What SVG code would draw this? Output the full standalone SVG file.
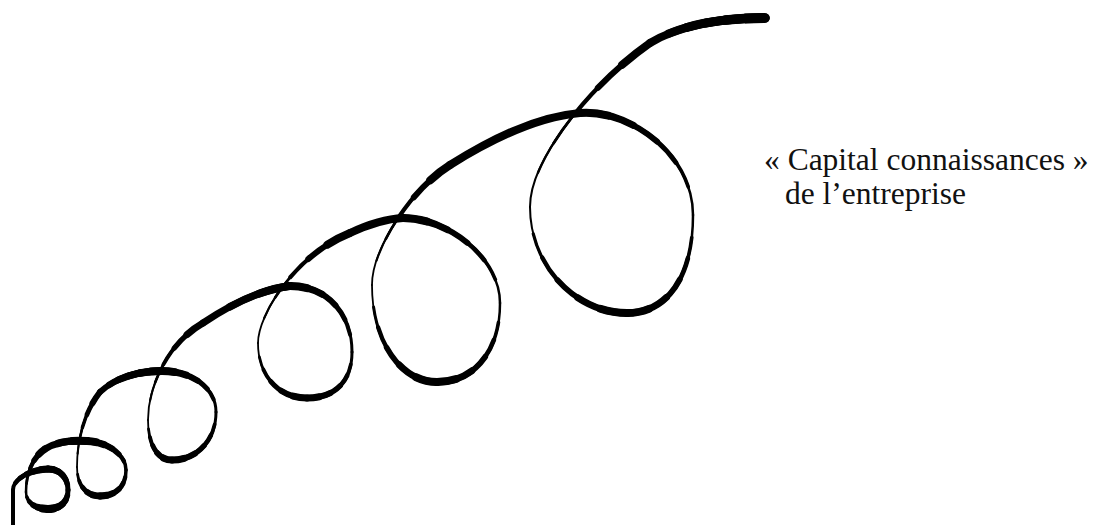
<svg xmlns="http://www.w3.org/2000/svg" width="1101" height="525" viewBox="0 0 1101 525">
<style>
.r{fill:none;stroke:#000;stroke-linecap:round;stroke-linejoin:round}
.o83{stroke-dasharray:83 300}
.o67{stroke-dasharray:67 300}
.o50{stroke-dasharray:50 300}
.o33{stroke-dasharray:33 300}
.o17{stroke-dasharray:17 300}
.i83{stroke-dasharray:83 300;stroke-dashoffset:-17}
.i67{stroke-dasharray:67 300;stroke-dashoffset:-33}
.i50{stroke-dasharray:50 300;stroke-dashoffset:-50}
.i33{stroke-dasharray:33 300;stroke-dashoffset:-67}
.i17{stroke-dasharray:17 300;stroke-dashoffset:-83}
.lbl{font-family:"Liberation Serif","Times New Roman",serif;font-size:31.5px;fill:#111}
</style>
<defs>
<path id="s1" pathLength="100" d="M13,530 L13,490"/>
<path id="s2" pathLength="100" d="M13,490 C13,480 28,470 48,469"/>
<path id="s3" pathLength="100" d="M48,469 C60,469 68,478 68,490"/>
<path id="s4" pathLength="100" d="M68,490 C68,502 60,509 48,509"/>
<path id="s5" pathLength="100" d="M48,509 C35,509 26,502 26,492"/>
<path id="s6" pathLength="100" d="M26,492 C26,473 33,457 45,449"/>
<path id="s7" pathLength="100" d="M45,449 C56,442 70,440 87,441"/>
<path id="s8" pathLength="100" d="M87,441 C108,442 126,455 126,470"/>
<path id="s9" pathLength="100" d="M126,470 C126,487 115,496 100,496"/>
<path id="s10" pathLength="100" d="M100,496 C85,496 77,484 77,467"/>
<path id="s11" pathLength="100" d="M77,467 C77,445 82,415 100,392"/>
<path id="s12" pathLength="100" d="M100,392 C115,378 138,371 162,371"/>
<path id="s13" pathLength="100" d="M162,371 C192,371 216,388 216,412"/>
<path id="s14" pathLength="100" d="M216,412 C216,440 197,460 172,460"/>
<path id="s15" pathLength="100" d="M172,460 C155,460 148,440 148,420"/>
<path id="s16" pathLength="100" d="M148,420 C148,390 165,345 203,323"/>
<path id="s17" pathLength="100" d="M203,323 C225,308 258,290 290,286"/>
<path id="s18" pathLength="100" d="M290,286 C330,286 352,317 352,352"/>
<path id="s19" pathLength="100" d="M352,352 C352,383 333,398 307,398"/>
<path id="s20" pathLength="100" d="M307,398 C278,398 258,375 258,343"/>
<path id="s21" pathLength="100" d="M258,343 C258,315 295,255 350,233"/>
<path id="s22" pathLength="100" d="M350,233 C367,225 383,219 403,218"/>
<path id="s23" pathLength="100" d="M403,218 C448,218 500,258 500,303"/>
<path id="s24" pathLength="100" d="M500,303 C500,350 475,382 437,382"/>
<path id="s25" pathLength="100" d="M437,382 C400,382 372,340 372,285"/>
<path id="s26" pathLength="100" d="M372,285 C372,250 410,190 450,165"/>
<path id="s27" pathLength="100" d="M450,165 C490,140 535,117 580,113"/>
<path id="s28" pathLength="100" d="M580,113 C630,109 693,155 693,215"/>
<path id="s29" pathLength="100" d="M693,215 C693,280 665,313 627,313"/>
<path id="s30" pathLength="100" d="M627,313 C575,313 530,265 530,207"/>
<path id="s31" pathLength="100" d="M530,207 C530,160 590,85 650,43"/>
<path id="s32" pathLength="100" d="M650,43 C680,25 720,18 765,18"/>
</defs>
<g id="spiral">
<use href="#s1" class="r" stroke-width="4"/>
<use href="#s2" class="r" stroke-width="4"/><use href="#s2" class="r i83" stroke-width="4.6"/><use href="#s2" class="r i67" stroke-width="5.2"/><use href="#s2" class="r i50" stroke-width="5.8"/><use href="#s2" class="r i33" stroke-width="6.4"/><use href="#s2" class="r i17" stroke-width="7"/>
<use href="#s3" class="r" stroke-width="5"/><use href="#s3" class="r o83" stroke-width="5.4"/><use href="#s3" class="r o67" stroke-width="5.8"/><use href="#s3" class="r o50" stroke-width="6.2"/><use href="#s3" class="r o33" stroke-width="6.6"/><use href="#s3" class="r o17" stroke-width="7"/>
<use href="#s4" class="r" stroke-width="5"/><use href="#s4" class="r i83" stroke-width="5.6"/><use href="#s4" class="r i67" stroke-width="6.2"/><use href="#s4" class="r i50" stroke-width="6.8"/><use href="#s4" class="r i33" stroke-width="7.4"/><use href="#s4" class="r i17" stroke-width="8"/>
<use href="#s5" class="r" stroke-width="2.5"/><use href="#s5" class="r o83" stroke-width="3.6"/><use href="#s5" class="r o67" stroke-width="4.7"/><use href="#s5" class="r o50" stroke-width="5.8"/><use href="#s5" class="r o33" stroke-width="6.9"/><use href="#s5" class="r o17" stroke-width="8"/>
<use href="#s6" class="r" stroke-width="2.5"/><use href="#s6" class="r i83" stroke-width="2.8"/><use href="#s6" class="r i67" stroke-width="3.2"/><use href="#s6" class="r i50" stroke-width="4.2"/><use href="#s6" class="r i33" stroke-width="5.5"/><use href="#s6" class="r i17" stroke-width="7"/>
<use href="#s7" class="r" stroke-width="7"/><use href="#s7" class="r i67" stroke-width="7.5"/><use href="#s7" class="r i33" stroke-width="8"/>
<use href="#s8" class="r" stroke-width="3.5"/><use href="#s8" class="r o83" stroke-width="4.4"/><use href="#s8" class="r o67" stroke-width="5.3"/><use href="#s8" class="r o50" stroke-width="6.2"/><use href="#s8" class="r o33" stroke-width="7.1"/><use href="#s8" class="r o17" stroke-width="8"/>
<use href="#s9" class="r" stroke-width="3.5"/><use href="#s9" class="r i83" stroke-width="4.2"/><use href="#s9" class="r i67" stroke-width="4.9"/><use href="#s9" class="r i50" stroke-width="5.6"/><use href="#s9" class="r i33" stroke-width="6.3"/><use href="#s9" class="r i17" stroke-width="7"/>
<use href="#s10" class="r" stroke-width="1.8"/><use href="#s10" class="r o83" stroke-width="2.8"/><use href="#s10" class="r o67" stroke-width="3.9"/><use href="#s10" class="r o50" stroke-width="4.9"/><use href="#s10" class="r o33" stroke-width="6"/><use href="#s10" class="r o17" stroke-width="7"/>
<use href="#s11" class="r" stroke-width="1.8"/><use href="#s11" class="r i83" stroke-width="2.1"/><use href="#s11" class="r i67" stroke-width="2.5"/><use href="#s11" class="r i50" stroke-width="3.5"/><use href="#s11" class="r i33" stroke-width="4.7"/><use href="#s11" class="r i17" stroke-width="6"/>
<use href="#s12" class="r" stroke-width="6"/><use href="#s12" class="r i83" stroke-width="6.4"/><use href="#s12" class="r i67" stroke-width="6.8"/><use href="#s12" class="r i50" stroke-width="7.2"/><use href="#s12" class="r i33" stroke-width="7.6"/><use href="#s12" class="r i17" stroke-width="8"/>
<use href="#s13" class="r" stroke-width="3"/><use href="#s13" class="r o83" stroke-width="4"/><use href="#s13" class="r o67" stroke-width="5"/><use href="#s13" class="r o50" stroke-width="6"/><use href="#s13" class="r o33" stroke-width="7"/><use href="#s13" class="r o17" stroke-width="8"/>
<use href="#s14" class="r" stroke-width="3"/><use href="#s14" class="r i83" stroke-width="3.8"/><use href="#s14" class="r i67" stroke-width="4.6"/><use href="#s14" class="r i50" stroke-width="5.4"/><use href="#s14" class="r i33" stroke-width="6.2"/><use href="#s14" class="r i17" stroke-width="7"/>
<use href="#s15" class="r" stroke-width="1.8"/><use href="#s15" class="r o83" stroke-width="2.8"/><use href="#s15" class="r o67" stroke-width="3.9"/><use href="#s15" class="r o50" stroke-width="4.9"/><use href="#s15" class="r o33" stroke-width="6"/><use href="#s15" class="r o17" stroke-width="7"/>
<use href="#s16" class="r" stroke-width="1.8"/><use href="#s16" class="r i83" stroke-width="2.1"/><use href="#s16" class="r i67" stroke-width="2.6"/><use href="#s16" class="r i50" stroke-width="3.8"/><use href="#s16" class="r i33" stroke-width="5.3"/><use href="#s16" class="r i17" stroke-width="7"/>
<use href="#s17" class="r" stroke-width="7"/><use href="#s17" class="r i67" stroke-width="7.5"/><use href="#s17" class="r i33" stroke-width="8"/>
<use href="#s18" class="r" stroke-width="3"/><use href="#s18" class="r o83" stroke-width="4"/><use href="#s18" class="r o67" stroke-width="5"/><use href="#s18" class="r o50" stroke-width="6"/><use href="#s18" class="r o33" stroke-width="7"/><use href="#s18" class="r o17" stroke-width="8"/>
<use href="#s19" class="r" stroke-width="3"/><use href="#s19" class="r i83" stroke-width="3.8"/><use href="#s19" class="r i67" stroke-width="4.6"/><use href="#s19" class="r i50" stroke-width="5.4"/><use href="#s19" class="r i33" stroke-width="6.2"/><use href="#s19" class="r i17" stroke-width="7"/>
<use href="#s20" class="r" stroke-width="1.8"/><use href="#s20" class="r o83" stroke-width="2.8"/><use href="#s20" class="r o67" stroke-width="3.9"/><use href="#s20" class="r o50" stroke-width="4.9"/><use href="#s20" class="r o33" stroke-width="6"/><use href="#s20" class="r o17" stroke-width="7"/>
<use href="#s21" class="r" stroke-width="1.8"/><use href="#s21" class="r i83" stroke-width="2.1"/><use href="#s21" class="r i67" stroke-width="2.7"/><use href="#s21" class="r i50" stroke-width="4.2"/><use href="#s21" class="r i33" stroke-width="6"/><use href="#s21" class="r i17" stroke-width="8"/>
<use href="#s22" class="r" stroke-width="8"/>
<use href="#s23" class="r" stroke-width="2.5"/><use href="#s23" class="r o83" stroke-width="3.6"/><use href="#s23" class="r o67" stroke-width="4.7"/><use href="#s23" class="r o50" stroke-width="5.8"/><use href="#s23" class="r o33" stroke-width="6.9"/><use href="#s23" class="r o17" stroke-width="8"/>
<use href="#s24" class="r" stroke-width="2.5"/><use href="#s24" class="r i83" stroke-width="3.6"/><use href="#s24" class="r i67" stroke-width="4.7"/><use href="#s24" class="r i50" stroke-width="5.8"/><use href="#s24" class="r i33" stroke-width="6.9"/><use href="#s24" class="r i17" stroke-width="8"/>
<use href="#s25" class="r" stroke-width="1.8"/><use href="#s25" class="r o83" stroke-width="3"/><use href="#s25" class="r o67" stroke-width="4.3"/><use href="#s25" class="r o50" stroke-width="5.5"/><use href="#s25" class="r o33" stroke-width="6.8"/><use href="#s25" class="r o17" stroke-width="8"/>
<use href="#s26" class="r" stroke-width="1.8"/><use href="#s26" class="r i83" stroke-width="2.1"/><use href="#s26" class="r i67" stroke-width="2.7"/><use href="#s26" class="r i50" stroke-width="4.2"/><use href="#s26" class="r i33" stroke-width="6"/><use href="#s26" class="r i17" stroke-width="8"/>
<use href="#s27" class="r" stroke-width="8"/>
<use href="#s28" class="r" stroke-width="2.5"/><use href="#s28" class="r o83" stroke-width="3.6"/><use href="#s28" class="r o67" stroke-width="4.7"/><use href="#s28" class="r o50" stroke-width="5.8"/><use href="#s28" class="r o33" stroke-width="6.9"/><use href="#s28" class="r o17" stroke-width="8"/>
<use href="#s29" class="r" stroke-width="2.5"/><use href="#s29" class="r i83" stroke-width="3.6"/><use href="#s29" class="r i67" stroke-width="4.7"/><use href="#s29" class="r i50" stroke-width="5.8"/><use href="#s29" class="r i33" stroke-width="6.9"/><use href="#s29" class="r i17" stroke-width="8"/>
<use href="#s30" class="r" stroke-width="2"/><use href="#s30" class="r o83" stroke-width="3.2"/><use href="#s30" class="r o67" stroke-width="4.4"/><use href="#s30" class="r o50" stroke-width="5.6"/><use href="#s30" class="r o33" stroke-width="6.8"/><use href="#s30" class="r o17" stroke-width="8"/>
<use href="#s31" class="r" stroke-width="2"/><use href="#s31" class="r i83" stroke-width="2.3"/><use href="#s31" class="r i67" stroke-width="2.8"/><use href="#s31" class="r i50" stroke-width="4.3"/><use href="#s31" class="r i33" stroke-width="6"/><use href="#s31" class="r i17" stroke-width="8"/>
<use href="#s32" class="r" stroke-width="8"/><use href="#s32" class="r i83" stroke-width="8.4"/><use href="#s32" class="r i67" stroke-width="8.8"/><use href="#s32" class="r i50" stroke-width="9.2"/><use href="#s32" class="r i33" stroke-width="9.6"/><use href="#s32" class="r i17" stroke-width="10" style="stroke-linecap:butt"/>
</g>
<g id="label">
<text class="lbl" x="764" y="170">« Capital connaissances »</text>
<text class="lbl" x="785" y="204">de l’entreprise</text>
</g>
</svg>
